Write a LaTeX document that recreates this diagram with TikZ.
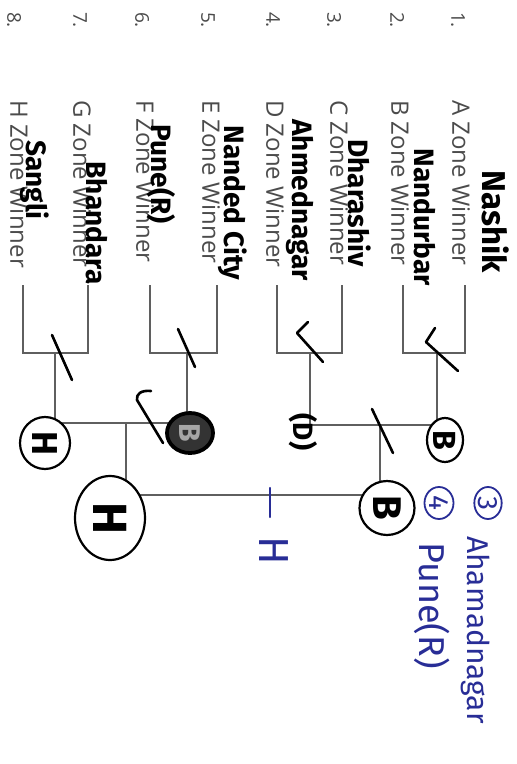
\documentclass[tikz,border=0pt]{standalone}
\usepackage{fontspec}
\setmainfont{Open Sans}
\newfontfamily\handfont{Fira Sans}
\usetikzlibrary{shapes.geometric,positioning,calc}

\definecolor{printgray}{RGB}{75,75,75}
\definecolor{linegray}{RGB}{95,95,95}
\definecolor{inkblue}{RGB}{40,45,150}

\begin{document}
\begin{tikzpicture}[
    x=1pt, y=-1pt,
    zone/.style={rotate=-90, anchor=west, inner sep=0pt, text=printgray, font=\fontsize{24}{26}\selectfont},
    seed/.style={rotate=-90, inner sep=0pt, text=printgray, font=\fontsize{19}{21}\selectfont},
    city/.style={rotate=-90, inner sep=0pt, font=\handfont\bfseries\fontsize{28}{30}\selectfont},
    bluenote/.style={rotate=-90, anchor=west, inner sep=0pt, text=inkblue, font=\handfont\fontsize{30}{32}\selectfont},
    bracket/.style={draw=linegray, line width=1.4pt},
    pen/.style={line width=2.6pt, line cap=round, line join=round},
    ring/.style={ellipse, draw, fill=white, line width=2.2pt, inner sep=0pt, rotate=-90, font=\handfont\bfseries\fontsize{34}{34}\selectfont},
    bluering/.style={ellipse, draw=inkblue, fill=white, text=inkblue, line width=1.8pt, inner sep=0pt, rotate=-90, font=\handfont\fontsize{28}{28}\selectfont}
]
    \useasboundingbox (0,0) rectangle (517,764);

    % seed numbers
    \node [seed] (n1) at (458,20) {1.};
    \node [seed] (n2) at (397,20) {2.};
    \node [seed] (n3) at (334,20) {3.};
    \node [seed] (n4) at (273,20) {4.};
    \node [seed] (n5) at (208,20) {5.};
    \node [seed] (n6) at (142,20) {6.};
    \node [seed] (n7) at (80,20) {7.};
    \node [seed] (n8) at (14,20) {8.};

    % printed zone rows
    \node [zone] (zA) at (461,100) {A Zone Winner};
    \node [zone] (zB) at (400,100) {B Zone Winner};
    \node [zone] (zC) at (339,100) {C Zone Winner};
    \node [zone] (zD) at (275,100) {D Zone Winner};
    \node [zone] (zE) at (211,100) {E Zone Winner};
    \node [zone] (zF) at (145,100) {F Zone Winner};
    \node [zone] (zG) at (82,100) {G Zone Winner};
    \node [zone] (zH) at (19,100) {H Zone Winner};

    % handwritten teams
    \node [city, font=\handfont\bfseries\fontsize{33}{34}\selectfont] (cA) at (496,222) {Nashik};
    \node [city] (cB) at (425,217) {Nandurbar};
    \node [city] (cC) at (360,203) {Dharashiv};
    \node [city] (cD) at (300,200) {Ahmednagar};
    \node [city] (cE) at (233,203) {Nanded City};
    \node [city] (cF) at (161,174) {Pune(R)};
    \node [city] (cG) at (97,223) {Bhandara};
    \node [city] (cH) at (35,180) {Sangli};

    % bracket points
    \coordinate (eA) at (465,285);
    \coordinate (eB) at (403,285);
    \coordinate (eC) at (342,285);
    \coordinate (eD) at (277,285);
    \coordinate (eE) at (217,285);
    \coordinate (eF) at (150,285);
    \coordinate (eG) at (88,285);
    \coordinate (eH) at (23,285);
    \coordinate (jAB) at (437,353);
    \coordinate (jCD) at (310,353);
    \coordinate (jEF) at (187,353);
    \coordinate (jGH) at (55,353);
    \coordinate (sAB) at (437,425);
    \coordinate (sCD) at (310,425);
    \coordinate (sEF) at (187,423);
    \coordinate (sGH) at (55,423);
    \coordinate (s1) at (380,425);
    \coordinate (s2) at (126,423);
    \coordinate (f1) at (380,495);
    \coordinate (f2) at (126,495);

    \draw [bracket] (eA) |- (jAB) -| (eB);
    \draw [bracket] (eC) |- (jCD) -| (eD);
    \draw [bracket] (eE) |- (jEF) -| (eF);
    \draw [bracket] (eG) |- (jGH) -| (eH);
    \draw [bracket] (jAB) -- (sAB) -- (sCD) -- (jCD);
    \draw [bracket] (jEF) -- (sEF) -- (sGH) -- (jGH);
    \draw [bracket] (s1) -- (f1) -- (f2) -- (s2);

    % ticks on the bracket
    \draw [pen] (435,328) -- (426,342) -- (458,371);
    \draw [pen] (308,322) -- (297,333) -- (323,362);
    \draw [pen] (178,329) -- (195,367);
    \draw [pen] (52,335) -- (72,380);
    \draw [pen] (372,409) -- (393,453);
    \draw [pen] (151,391) .. controls (141,390) and (136,394) .. (137,400) -- (163,443);

    % circled results
    \node [ring, minimum width=44pt, minimum height=36pt, font=\handfont\bfseries\fontsize{32}{32}\selectfont] (wAB) at (445,440) {B};
    \node [rotate=-90, inner sep=0pt, font=\handfont\bfseries\fontsize{28}{28}\selectfont] (wCD) at (303,432) {(D)};
    \node [ring, line width=3.8pt, fill=black!80, text=black!35, minimum width=40pt, minimum height=46pt, font=\handfont\bfseries\fontsize{30}{30}\selectfont] (wEF) at (190,433) {B};
    \node [ring, minimum width=52pt, minimum height=50pt, font=\handfont\bfseries\fontsize{36}{36}\selectfont] (wGH) at (45,443) {H};
    \node [ring, minimum width=54pt, minimum height=55pt, font=\handfont\bfseries\fontsize{40}{40}\selectfont] (wTop) at (387,508) {B};
    \node [ring, minimum width=84pt, minimum height=70pt, font=\handfont\bfseries\fontsize{48}{48}\selectfont] (wBot) at (110,518) {H};

    % blue notes
    \draw [pen, draw=inkblue, line width=2.2pt] (270,488) -- (270,517);
    \node [rotate=-90, inner sep=0pt, text=inkblue, font=\handfont\fontsize{42}{42}\selectfont] (hWin) at (274,551) {H};
    \node [bluering, minimum width=32pt, minimum height=26pt] (r3) at (488,503) {3};
    \node [bluering, minimum width=32pt, minimum height=29pt] (r4) at (439,503) {4};
    \node [bluenote] (b3) at (476,536) {Ahamadnagar};
    \node [bluenote, font=\handfont\fontsize{36}{38}\selectfont] (b4) at (432,542) {Pune(R)};
\end{tikzpicture}
\end{document}
